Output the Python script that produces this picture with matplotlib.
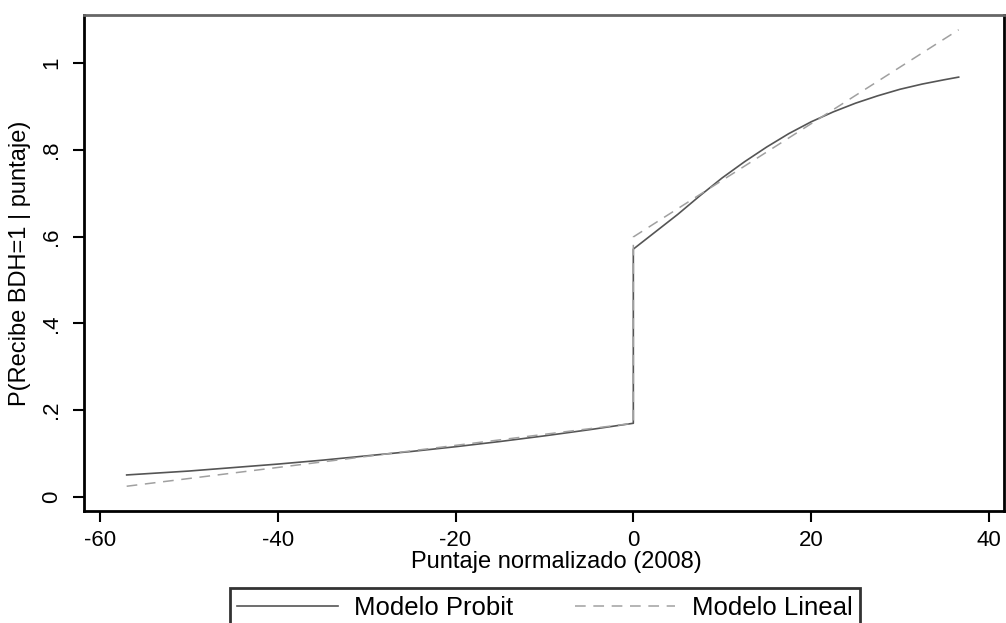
import matplotlib
matplotlib.use("Agg")
import matplotlib.pyplot as plt

plt.rcParams['font.family'] = ['Liberation Sans', 'DejaVu Sans']
plt.rcParams['axes.unicode_minus'] = False

# readings from the picture (normalised score vs predicted probability)
probit_x = [-57, -50, -45, -40, -35, -30, -25, -20, -15, -10, -5, 0,
            0, 2.5, 5, 7.5, 10, 12.5, 15, 17.5, 20, 22.5, 25, 27.5, 30,
            32.5, 35, 36.6]
probit_y = [0.051, 0.060, 0.068, 0.076, 0.085, 0.095, 0.105, 0.116, 0.128,
            0.141, 0.155, 0.170,
            0.571, 0.611, 0.651, 0.694, 0.735, 0.772, 0.806, 0.837, 0.864,
            0.887, 0.907, 0.924, 0.939, 0.951, 0.961, 0.967]

lineal_x = [-57, 0, 0, 36.6]
lineal_y = [0.025, 0.170, 0.599, 1.076]

xticks = [-60, -40, -20, 0, 20, 40]
yticks = [0, 0.2, 0.4, 0.6, 0.8, 1.0]
ytick_labels = ['0', '.2', '.4', '.6', '.8', '1']

fig = plt.figure(figsize=(10.06, 6.23), dpi=100)
ax = fig.add_axes([84 / 1006, 1 - 511 / 623, 920 / 1006, 496 / 623])

ax.plot(probit_x, probit_y, color='#555555', lw=1.2, label='Modelo Probit')
ax.plot(lineal_x, lineal_y, color='#a0a0a0', lw=1.1, ls=(0, (7, 5)),
        label='Modelo Lineal')

ax.set_xlim(-61.8, 41.7)
ax.set_ylim(-0.032, 1.11)
ax.set_xticks(xticks)
ax.set_yticks(yticks)
ax.set_yticklabels(ytick_labels, rotation=90, va='center')
ax.tick_params(axis='both', labelsize=16, length=8, width=1.5, color='black')
ax.tick_params(axis='x', pad=6)
ax.tick_params(axis='y', pad=8)

for side in ['left', 'bottom', 'right']:
    ax.spines[side].set_linewidth(2)
    ax.spines[side].set_color('black')
ax.spines['top'].set_linewidth(2)
ax.spines['top'].set_color('#666666')

ax.set_xlabel('Puntaje normalizado (2008)', fontsize=17, labelpad=0,
              x=(556 - 84) / 920)
ax.set_ylabel('P(Recibe BDH=1 | puntaje)', fontsize=17, labelpad=7)

leg = fig.legend(loc='upper center', bbox_to_anchor=(545 / 1006, 1 - 588 / 623),
                 borderaxespad=0, ncol=2, fontsize=18.5, frameon=True,
                 fancybox=False, handlelength=3.9, handletextpad=0.65,
                 columnspacing=2.4, borderpad=0.3)
leg.get_frame().set_edgecolor('black')
leg.get_frame().set_linewidth(2)

fig.savefig('out.png', dpi=100)
